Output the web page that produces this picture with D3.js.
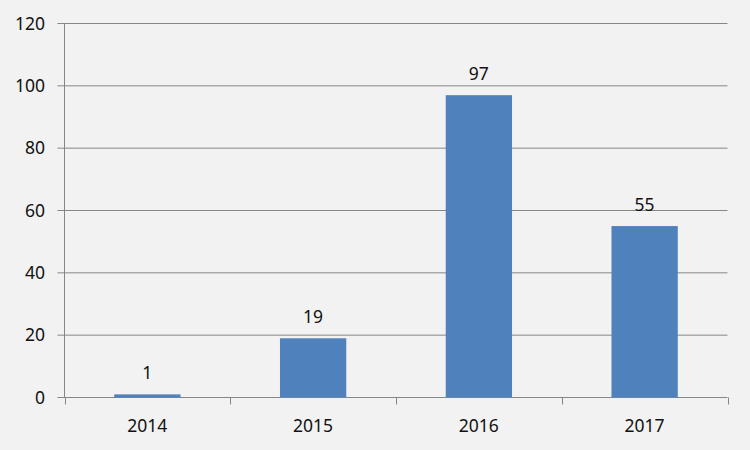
<!DOCTYPE html>
<html><head><meta charset="utf-8">
<script src="https://cdn.jsdelivr.net/npm/d3@7"></script>
<style>body{margin:0;background:#f2f2f2}svg{display:block}</style>
</head><body>
<svg id="c" width="750" height="450"></svg>
<script>
const categories = ["2014","2015","2016","2017"];
const values = [1,19,97,55];
const yTicks = [0,20,40,60,80,100,120];

const svg = d3.select("#c");
svg.append("rect").attr("width",750).attr("height",450).attr("fill","#f2f2f2");
const L=64.5, R=727.5, T=23.5, B=397.5;
const x = d3.scaleBand().domain(categories).range([L,R]).paddingInner(0.6).paddingOuter(0.3);
const y = d3.scaleLinear().domain([0,120]).range([B,T]);
const font = "'Noto Sans', 'Open Sans', sans-serif";
const fs = 17.5;
const grid = "#868686";

svg.append("g").selectAll("line").data(yTicks).join("line")
  .attr("x1",L-7).attr("x2",R).attr("y1",d=>y(d)).attr("y2",d=>y(d))
  .attr("stroke",grid).attr("stroke-width",1);
svg.append("line").attr("x1",L).attr("x2",L).attr("y1",T).attr("y2",B).attr("stroke",grid);
const bounds = d3.range(categories.length+1).map(i => L + i*(R-L)/categories.length);
svg.append("g").selectAll("line").data(bounds).join("line")
  .attr("x1",d=>Math.round(d)+0.5).attr("x2",d=>Math.round(d)+0.5).attr("y1",B).attr("y2",B+7)
  .attr("stroke",grid);

svg.append("g").selectAll("text").data(yTicks).join("text")
  .attr("x",45).attr("y",d=>y(d)).attr("dy","0.35em").attr("text-anchor","end")
  .attr("font-family",font).attr("font-size",fs).attr("fill","#111").text(d=>d);

svg.append("g").selectAll("rect").data(values).join("rect")
  .attr("x",(d,i)=>x(categories[i])).attr("width",x.bandwidth())
  .attr("y",d=>y(d)).attr("height",d=>B-y(d)).attr("fill","#4f81bd");

svg.append("g").selectAll("text").data(values).join("text")
  .attr("x",(d,i)=>x(categories[i])+x.bandwidth()/2).attr("y",d=>y(d)-15)
  .attr("text-anchor","middle").attr("font-family",font).attr("font-size",fs).attr("fill","#111")
  .text(d=>d);

svg.append("g").selectAll("text").data(categories).join("text")
  .attr("x",d=>x(d)+x.bandwidth()/2).attr("y",B+34)
  .attr("text-anchor","middle").attr("font-family",font).attr("font-size",fs).attr("fill","#111")
  .text(d=>d);
</script>
</body></html>
